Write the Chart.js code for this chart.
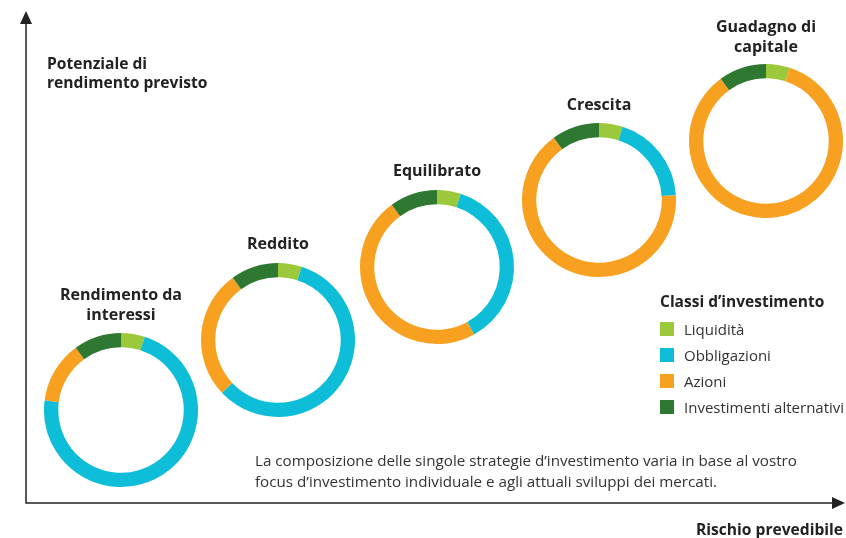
<!DOCTYPE html>
<html>
<head>
<meta charset="utf-8">
<script src="https://cdn.jsdelivr.net/npm/chart.js@4.4.1/dist/chart.umd.min.js"></script>
<style>
  html, body { margin: 0; padding: 0; background: #fff; }
  body { width: 846px; height: 538px; position: relative; overflow: hidden;
         font-family: "Open Sans", "Noto Sans", sans-serif; color: #222; }
  #axes { position: absolute; left: 0; top: 0; }
  .donut { position: absolute; width: 170px; height: 170px; }
  .lbl { position: absolute; font-weight: bold; font-size: 16px; line-height: 20px; text-align: center; transform: translateX(-50%); white-space: nowrap; color: #222; }
  .axis-lbl { position: absolute; font-weight: bold; font-size: 15.6px; line-height: 19px; white-space: nowrap; color: #222; }
  #note { position: absolute; left: 255px; top: 450px; font-size: 15.2px; line-height: 21px; color: #333; white-space: nowrap; }
  #legend { position: absolute; left: 660px; top: 291px; }
  #legend .ttl { font-weight: bold; font-size: 15.5px; line-height: 20px; margin-bottom: 5px; }
  #legend .item { font-size: 15px; line-height: 26px; height: 26px; display: flex; align-items: center; color: #333; }
  #legend .sw { width: 14px; height: 14px; margin-right: 10px; }
</style>
</head>
<body>
<canvas id="axes" width="846" height="538"></canvas>

<div class="axis-lbl" style="left:47px; top:54px;">Potenziale di<br>rendimento previsto</div>
<div class="axis-lbl" style="right:3px; top:520px;">Rischio prevedibile</div>

<div id="note">La composizione delle singole strategie d’investimento varia in base al vostro<br>focus d’investimento individuale e agli attuali sviluppi dei mercati.</div>

<div id="legend"></div>

<script>
// strategie (da sinistra a destra)
const categories = ['Rendimento da\ninteressi', 'Reddito', 'Equilibrato', 'Crescita', 'Guadagno di\ncapitale'];
const classes = ['Liquidità', 'Obbligazioni', 'Azioni', 'Investimenti alternativi'];
// percentuali per classe
const liquidita    = [5, 5, 5, 5, 5];
const obbligazioni = [72, 58, 37, 19, 0];
const azioni       = [13, 27, 48, 66, 85];
const alternativi  = [10, 10, 10, 10, 10];

const colors = ['#9bc93b', '#0ebdd8', '#f8a01f', '#2e7832'];

// posizione dei centri delle ciambelle e delle etichette
const centers = [[121, 410], [278, 340], [437, 267], [599, 200], [766, 141]];
const labelTops = [284, 233, 160, 94, 16];

// assi con frecce
const ax = document.getElementById('axes').getContext('2d');
ax.strokeStyle = '#222';
ax.fillStyle = '#222';
ax.lineWidth = 1.5;
ax.beginPath();
ax.moveTo(26, 22); ax.lineTo(26, 503); ax.lineTo(834, 503);
ax.stroke();
ax.beginPath(); ax.moveTo(26, 11); ax.lineTo(20, 24); ax.lineTo(32, 24); ax.closePath(); ax.fill();
ax.beginPath(); ax.moveTo(845, 503); ax.lineTo(832, 497); ax.lineTo(832, 509); ax.closePath(); ax.fill();

// legenda
const legend = document.getElementById('legend');
legend.innerHTML = '<div class="ttl">Classi d’investimento</div>' +
  classes.map((c, i) => `<div class="item"><span class="sw" style="background:${colors[i]}"></span>${c}</div>`).join('');

categories.forEach((cat, i) => {
  const [cx, cy] = centers[i];

  const lbl = document.createElement('div');
  lbl.className = 'lbl';
  lbl.style.left = cx + 'px';
  lbl.style.top = labelTops[i] + 'px';
  lbl.innerHTML = cat.replace('\n', '<br>');
  document.body.appendChild(lbl);

  const cv = document.createElement('canvas');
  cv.className = 'donut';
  cv.width = 170; cv.height = 170;
  cv.style.left = (cx - 85) + 'px';
  cv.style.top = (cy - 85) + 'px';
  document.body.appendChild(cv);

  new Chart(cv, {
    type: 'doughnut',
    data: {
      labels: classes,
      datasets: [{
        data: [liquidita[i], obbligazioni[i], azioni[i], alternativi[i]],
        backgroundColor: colors,
        borderWidth: 0
      }]
    },
    options: {
      responsive: false,
      animation: false,
      radius: 77,
      cutout: '81.5%',
      plugins: { legend: { display: false }, tooltip: { enabled: false } }
    }
  });
});
</script>
</body>
</html>
